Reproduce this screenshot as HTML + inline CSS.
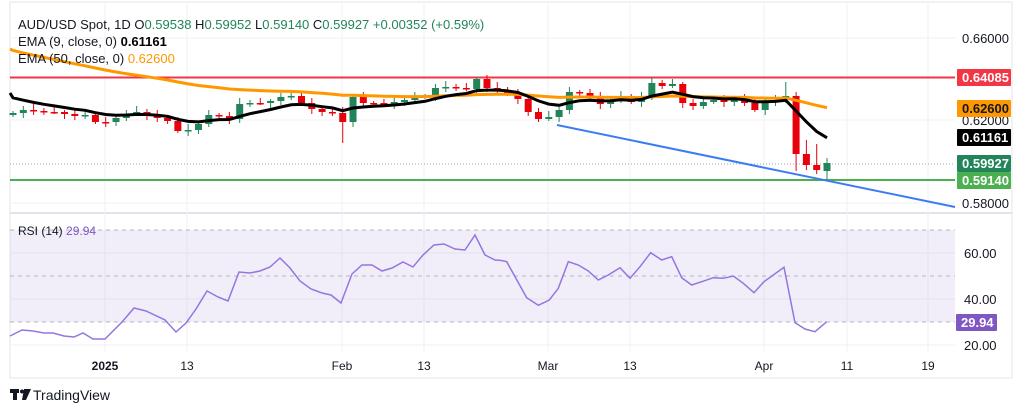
<!DOCTYPE html>
<html><head><meta charset="utf-8">
<style>
body{margin:0;width:1024px;height:412px;background:#fff;overflow:hidden;font-family:"Liberation Sans",sans-serif;}
svg text{font-family:"Liberation Sans",sans-serif;}
</style></head><body>
<svg id="s" width="1024" height="412" viewBox="0 0 1024 412" xmlns="http://www.w3.org/2000/svg">
<rect x="10" y="2" width="1002" height="376" fill="#fff" stroke="#e6e6e6"/>
<line x1="10" y1="213" x2="1012" y2="213" stroke="#e0e3eb" stroke-width="2"/>
<g stroke="#f0f1f4" stroke-width="1">
<line x1="105" y1="2" x2="105" y2="352"/><line x1="187" y1="2" x2="187" y2="352"/>
<line x1="342" y1="2" x2="342" y2="352"/><line x1="424" y1="2" x2="424" y2="352"/>
<line x1="548" y1="2" x2="548" y2="352"/><line x1="630" y1="2" x2="630" y2="352"/>
<line x1="764" y1="2" x2="764" y2="352"/><line x1="847" y1="2" x2="847" y2="352"/>
<line x1="928" y1="2" x2="928" y2="352"/>
<line x1="10" y1="38" x2="955" y2="38"/><line x1="10" y1="120" x2="955" y2="120"/><line x1="10" y1="203" x2="955" y2="203"/>
<line x1="10" y1="253" x2="955" y2="253"/><line x1="10" y1="299" x2="955" y2="299"/><line x1="10" y1="345" x2="955" y2="345"/>
</g>
<line x1="10" y1="164" x2="955" y2="164" stroke="#9aa" stroke-width="1" stroke-dasharray="1,2"/>
<line x1="10" y1="77.5" x2="955" y2="77.5" stroke="#f23645" stroke-width="2"/>
<line x1="10" y1="180" x2="955" y2="180" stroke="#4caf50" stroke-width="2"/>
<line x1="557" y1="125" x2="955" y2="207" stroke="#3d7bf5" stroke-width="2"/>
<g id="candles"></g>
<polyline id="e50" fill="none" stroke="#ff9800" stroke-width="3"/>
<polyline id="e9" fill="none" stroke="#000" stroke-width="3"/>
<!-- RSI -->
<rect x="10" y="230" width="945" height="92" fill="#7e57c2" fill-opacity="0.1"/>
<g stroke="#b2b5be" stroke-dasharray="4,4" stroke-width="1">
<line x1="10" y1="230" x2="955" y2="230"/><line x1="10" y1="276" x2="955" y2="276"/><line x1="10" y1="322" x2="955" y2="322"/>
</g>
<polyline id="rsi" fill="none" stroke="#9575e0" stroke-width="1.5"/>
<!-- legend -->
<text x="18" y="29" font-size="13" fill="#131722">AUD/USD Spot, 1D  O<tspan fill="#22855a">0.59538</tspan>  H<tspan fill="#22855a">0.59952</tspan>  L<tspan fill="#22855a">0.59140</tspan>  C<tspan fill="#22855a">0.59927</tspan> <tspan fill="#22855a">+0.00352 (+0.59%)</tspan></text>
<text x="18" y="46" font-size="13" fill="#131722">EMA (9, close, 0)  <tspan font-weight="bold" fill="#000">0.61161</tspan></text>
<text x="18" y="63" font-size="13" fill="#131722">EMA (50, close, 0)  <tspan fill="#ff9800">0.62600</tspan></text>
<text x="18" y="235" font-size="12" fill="#131722">RSI (14) <tspan fill="#7e57c2">29.94</tspan></text>
<!-- price axis -->
<g font-size="13" fill="#131722">
<text x="962" y="43">0.66000</text>
<text x="962" y="125">0.62000</text>
<text x="962" y="208">0.58000</text>
<text x="964" y="258">60.00</text>
<text x="964" y="304">40.00</text>
<text x="964" y="350">20.00</text>
</g>
<g font-size="13" font-weight="bold">
<rect x="957" y="69" width="54" height="17" fill="#f23645" rx="1"/><text x="962" y="82" fill="#fff">0.64085</text>
<rect x="957" y="100" width="54" height="17" fill="#ff9800" rx="1"/><text x="962" y="113" fill="#131722">0.62600</text>
<rect x="957" y="129" width="54" height="17" fill="#000" rx="1"/><text x="962" y="142" fill="#fff">0.61161</text>
<rect x="957" y="155" width="54" height="17" fill="#22855a" rx="1"/><text x="962" y="168" fill="#fff">0.59927</text>
<rect x="957" y="172" width="54" height="17" fill="#4caf50" rx="1"/><text x="962" y="185" fill="#fff">0.59140</text>
<rect x="956" y="314" width="41" height="17" fill="#7e57c2" rx="1"/><text x="961" y="327" fill="#fff">29.94</text>
</g>
<g font-size="12" fill="#131722" text-anchor="middle">
<text x="105" y="370" font-weight="bold">2025</text><text x="187" y="370">13</text>
<text x="342" y="370">Feb</text><text x="424" y="370">13</text>
<text x="548" y="370">Mar</text><text x="630" y="370">13</text>
<text x="764" y="370">Apr</text><text x="847" y="370">11</text><text x="928" y="370">19</text>
</g>
<g fill="#131722"><rect x="10" y="389" width="9" height="4"/><rect x="13" y="389" width="4" height="11"/><circle cx="22" cy="391.5" r="2"/><polygon points="24,389 31,389 26,400 22,400"/></g>
<text x="33" y="400" font-size="14" fill="#131722">TradingView</text>
</svg>
<script>
var C=[113,110,111,112,112,114,116,115,122,122,118,114,112,115,118,121,131,130,124,115,116,119,104,103,103,101,97,96,103,109,112,113,122,97,103,103,104,102,100,97,96,88,87,88,89,79,88,90,94,99,112,119,117,110,92,93,98,104,100,96,102,96,83,86,84,103,106,102,100,102,98,103,110,102,100,96,154,165,170,163];
var n=C.length,st=(827-13)/(n-1),g=document.getElementById('candles'),ns='http://www.w3.org/2000/svg',h='';
var prev=115;
for(var i=0;i<n;i++){var x=13+i*st,o=prev,c=C[i];prev=c;
if(i==n-1)o=171;
var up=c<o,col=up?'#22855a':'#e8000b',t=Math.min(o,c),b=Math.max(o,c);
var hi=t-2-((i*7)%5),lo=b+2+((i*3)%4);
if(i==32)lo=143;if(i==75)hi=82;if(i==76)lo=171;if(i==77)hi=140;if(i==78)hi=144;if(i==79)lo=180;
h+='<line x1="'+x+'" y1="'+hi+'" x2="'+x+'" y2="'+lo+'" stroke="'+col+'"/>';
h+='<rect x="'+(x-3.5)+'" y="'+t+'" width="7" height="'+Math.max(1.5,b-t)+'" fill="'+col+'"/>';}
g.innerHTML=h;
function ema(p,s){var k=2/(p+1),e=s,pts=[];for(var i=0;i<n;i++){e=C[i]*k+e*(1-k);pts.push((13+i*st).toFixed(1)+','+e.toFixed(1));}return pts.join(' ');}
document.getElementById('e9').setAttribute('points','10,93 '+ema(9,94));
document.getElementById('e50').setAttribute('points','10,49 '+ema(50,48));
var R=[[10,336],[22,330],[33,331],[44,333],[53,333],[64,336],[74,337],[83,333],[93,339],[105,339],[122,322],[134,308],[146,311],[165,320],[176,332],[186,323],[196,309],[207,291],[218,297],[228,301],[239,272],[250,273],[260,271],[270,267],[280,258],[290,268],[300,281],[311,289],[322,293],[331,295],[341,303],[352,274],[362,265],[372,265],[382,271],[392,268],[403,262],[413,267],[423,255],[434,245],[444,244],[455,249],[465,250],[475,235],[485,255],[495,260]];
var Z=[[0,136],[20,140],[80,248],[115,271],[148,255],[175,220],[205,140],[235,150],[265,168],[295,195],[325,180],[360,158],[390,190],[420,155],[452,113],[485,135],[515,125],[545,188],[575,210],[605,200],[640,188],[670,190],[700,183],[730,205],[762,233],[792,200],[852,157],[885,323],[915,342],[945,350],[980,320]];
Z.forEach(function(p){R.push([p[0]/3+500,p[1]/3+215]);});
document.getElementById('rsi').setAttribute('points',R.map(function(p){return p[0].toFixed(1)+','+p[1].toFixed(1)}).join(' '));
</script>
</body></html>
